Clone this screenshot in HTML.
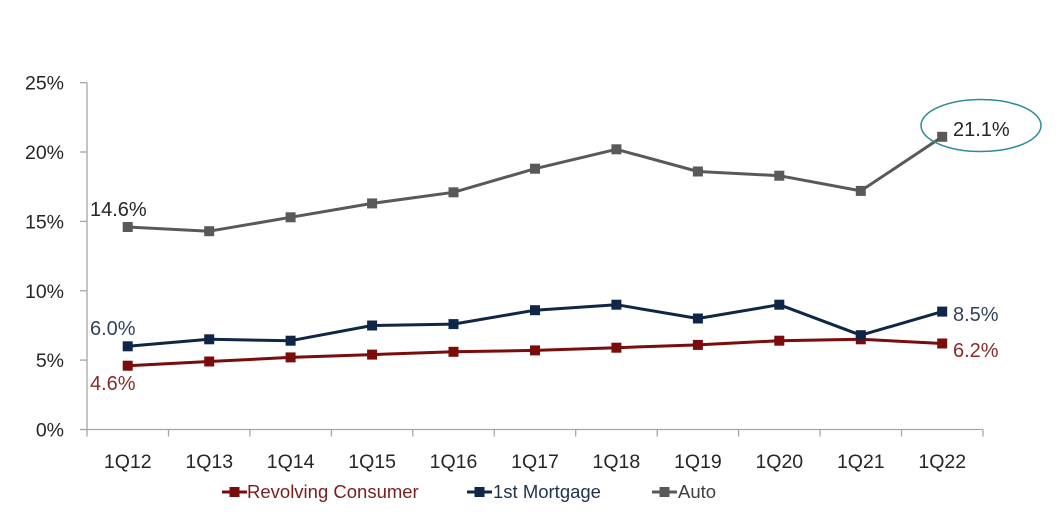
<!DOCTYPE html>
<html><head><meta charset="utf-8"><style>
html,body{margin:0;padding:0;background:#fff;}
svg{display:block;}
text{font-family:"Liberation Sans",sans-serif;}
</style></head><body>
<svg width="1062" height="517" viewBox="0 0 1062 517" xmlns="http://www.w3.org/2000/svg">
<rect width="1062" height="517" fill="#fff"/>
<!-- axes -->
<g stroke="#a6a6a6" stroke-width="1.3" fill="none">
<line x1="87" y1="82.7" x2="87" y2="429.5"/>
<line x1="87" y1="429.5" x2="983" y2="429.5"/>
<line x1="80" y1="82.7" x2="87" y2="82.7"/>
<line x1="80" y1="152" x2="87" y2="152"/>
<line x1="80" y1="221.4" x2="87" y2="221.4"/>
<line x1="80" y1="290.8" x2="87" y2="290.8"/>
<line x1="80" y1="360.1" x2="87" y2="360.1"/>
<line x1="80" y1="429.5" x2="87" y2="429.5"/>
<line x1="87" y1="429.5" x2="87" y2="436.5"/>
<line x1="168.5" y1="429.5" x2="168.5" y2="436.5"/>
<line x1="249.9" y1="429.5" x2="249.9" y2="436.5"/>
<line x1="331.4" y1="429.5" x2="331.4" y2="436.5"/>
<line x1="412.8" y1="429.5" x2="412.8" y2="436.5"/>
<line x1="494.3" y1="429.5" x2="494.3" y2="436.5"/>
<line x1="575.7" y1="429.5" x2="575.7" y2="436.5"/>
<line x1="657.2" y1="429.5" x2="657.2" y2="436.5"/>
<line x1="738.6" y1="429.5" x2="738.6" y2="436.5"/>
<line x1="820.1" y1="429.5" x2="820.1" y2="436.5"/>
<line x1="901.5" y1="429.5" x2="901.5" y2="436.5"/>
<line x1="983" y1="429.5" x2="983" y2="436.5"/>
</g>
<!-- y labels -->
<g font-size="19.5" fill="#262626" text-anchor="end">
<text x="64" y="89.7">25%</text>
<text x="64" y="159">20%</text>
<text x="64" y="228.4">15%</text>
<text x="64" y="297.8">10%</text>
<text x="64" y="367.1">5%</text>
<text x="64" y="436.5">0%</text>
</g>
<!-- x labels -->
<g font-size="19.5" fill="#262626" text-anchor="middle">
<text x="127.7" y="468">1Q12</text>
<text x="209.2" y="468">1Q13</text>
<text x="290.6" y="468">1Q14</text>
<text x="372.1" y="468">1Q15</text>
<text x="453.5" y="468">1Q16</text>
<text x="535" y="468">1Q17</text>
<text x="616.4" y="468">1Q18</text>
<text x="697.9" y="468">1Q19</text>
<text x="779.3" y="468">1Q20</text>
<text x="860.8" y="468">1Q21</text>
<text x="942.2" y="468">1Q22</text>
</g>
<!-- Revolving -->
<polyline fill="none" stroke="#7b0c0c" stroke-width="3" stroke-linejoin="round" points="127.7,365.7 209.2,361.5 290.6,357.4 372.1,354.6 453.5,351.8 535,350.4 616.4,347.7 697.9,344.9 779.3,340.7 860.8,339.3 942.2,343.5"/>
<g fill="#7b0c0c">
<rect x="122.7" y="360.7" width="10" height="10"/>
<rect x="204.2" y="356.5" width="10" height="10"/>
<rect x="285.6" y="352.4" width="10" height="10"/>
<rect x="367.1" y="349.6" width="10" height="10"/>
<rect x="448.5" y="346.8" width="10" height="10"/>
<rect x="530" y="345.4" width="10" height="10"/>
<rect x="611.4" y="342.7" width="10" height="10"/>
<rect x="692.9" y="339.9" width="10" height="10"/>
<rect x="774.3" y="335.7" width="10" height="10"/>
<rect x="855.8" y="334.3" width="10" height="10"/>
<rect x="937.2" y="338.5" width="10" height="10"/>
</g>
<!-- Mortgage -->
<polyline fill="none" stroke="#0f2746" stroke-width="3" stroke-linejoin="round" points="127.7,346.3 209.2,339.3 290.6,340.7 372.1,325.5 453.5,324.1 535,310.2 616.4,304.7 697.9,318.5 779.3,304.7 860.8,335.2 942.2,311.6"/>
<g fill="#0f2746">
<rect x="122.7" y="341.3" width="10" height="10"/>
<rect x="204.2" y="334.3" width="10" height="10"/>
<rect x="285.6" y="335.7" width="10" height="10"/>
<rect x="367.1" y="320.5" width="10" height="10"/>
<rect x="448.5" y="319.1" width="10" height="10"/>
<rect x="530" y="305.2" width="10" height="10"/>
<rect x="611.4" y="299.7" width="10" height="10"/>
<rect x="692.9" y="313.5" width="10" height="10"/>
<rect x="774.3" y="299.7" width="10" height="10"/>
<rect x="855.8" y="330.2" width="10" height="10"/>
<rect x="937.2" y="306.6" width="10" height="10"/>
</g>
<!-- Auto -->
<polyline fill="none" stroke="#595959" stroke-width="3" stroke-linejoin="round" points="127.7,227 209.2,231.2 290.6,217.3 372.1,203.4 453.5,192.3 535,168.7 616.4,149.3 697.9,171.5 779.3,175.7 860.8,190.9 942.2,136.8"/>
<g fill="#595959">
<rect x="122.7" y="222" width="10" height="10"/>
<rect x="204.2" y="226.2" width="10" height="10"/>
<rect x="285.6" y="212.3" width="10" height="10"/>
<rect x="367.1" y="198.4" width="10" height="10"/>
<rect x="448.5" y="187.3" width="10" height="10"/>
<rect x="530" y="163.7" width="10" height="10"/>
<rect x="611.4" y="144.3" width="10" height="10"/>
<rect x="692.9" y="166.5" width="10" height="10"/>
<rect x="774.3" y="170.7" width="10" height="10"/>
<rect x="855.8" y="185.9" width="10" height="10"/>
<rect x="937.2" y="131.8" width="10" height="10"/>
</g>
<!-- data labels -->
<g font-size="20">
<text x="90" y="216" fill="#262626">14.6%</text>
<text x="90" y="335" fill="#33425c">6.0%</text>
<text x="90" y="390" fill="#8c2b2b">4.6%</text>
<text x="953" y="136" fill="#262626">21.1%</text>
<text x="953" y="321" fill="#33425c">8.5%</text>
<text x="953" y="357" fill="#8c2b2b">6.2%</text>
</g>
<ellipse cx="981" cy="125.5" rx="60" ry="26" fill="none" stroke="#2b8c97" stroke-width="1.5"/>
<!-- legend -->
<g stroke-width="3">
<line x1="222" y1="492" x2="247" y2="492" stroke="#7b0c0c"/>
<line x1="467" y1="492" x2="492" y2="492" stroke="#0f2746"/>
<line x1="652" y1="492" x2="677" y2="492" stroke="#595959"/>
</g>
<rect x="229.5" y="487" width="10" height="10" fill="#7b0c0c"/>
<rect x="474.5" y="487" width="10" height="10" fill="#0f2746"/>
<rect x="659.5" y="487" width="10" height="10" fill="#595959"/>
<g font-size="18.5">
<text x="247" y="498" fill="#7b1c1c">Revolving Consumer</text>
<text x="493" y="498" fill="#1f3350">1st Mortgage</text>
<text x="678" y="498" fill="#404040">Auto</text>
</g>
</svg>
</body></html>
